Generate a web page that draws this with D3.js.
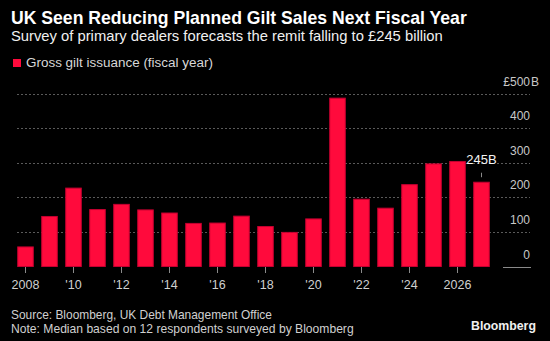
<!DOCTYPE html>
<html>
<head>
<meta charset="utf-8">
<script src="https://cdn.jsdelivr.net/npm/d3@7/dist/d3.min.js"></script>
<style>
  html, body { margin: 0; padding: 0; background: #000; }
  svg { display: block; }
  text { font-family: "Liberation Sans", Arial, sans-serif; }
</style>
</head>
<body>
<svg id="chart" width="550" height="341"></svg>
<script>
// Gross gilt issuance by fiscal year, £ billion
const years = [2008, 2009, 2010, 2011, 2012, 2013, 2014, 2015, 2016, 2017,
               2018, 2019, 2020, 2021, 2022, 2023, 2024, 2025, 2026, 2027];
const issuance = [58, 146, 228, 166, 181, 165, 156, 126, 127, 147,
                  117, 100, 139, 488, 196, 170, 238, 298, 305, 245];
const tickYears = [2008, 2010, 2012, 2014, 2016, 2018, 2020, 2022, 2024, 2026];
const tickLabels = ["2008", "'10", "'12", "'14", "'16", "'18", "'20", "'22", "'24", "2026"];
const yTicks = [0, 100, 200, 300, 400, 500];
const callout = { year: 2027, value: 245, label: "245B" };

const svg = d3.select("#chart");
const W = 550, H = 341;
svg.append("rect").attr("width", W).attr("height", H).attr("fill", "#000");

const RED = "#ff0a3c";
const RED_EDGE = "#c40030";

// Shrink or grow a text node's font size so it spans a given width
function fit(sel, width) {
  const node = sel.node();
  const fs = parseFloat(sel.attr("font-size"));
  const w = node.getComputedTextLength();
  if (w > 0) sel.attr("font-size", (fs * width / w).toFixed(2));
  return sel;
}

// Header
fit(svg.append("text").attr("x", 11).attr("y", 24)
  .attr("font-size", 17).attr("font-weight", "bold").attr("fill", "#fff")
  .text("UK Seen Reducing Planned Gilt Sales Next Fiscal Year"), 456);

fit(svg.append("text").attr("x", 11).attr("y", 40.5)
  .attr("font-size", 13).attr("fill", "#f0f0f0")
  .text("Survey of primary dealers forecasts the remit falling to £245 billion"), 432);

// Legend
svg.append("rect").attr("x", 13).attr("y", 59).attr("width", 8).attr("height", 8).attr("fill", RED);
fit(svg.append("text").attr("x", 26).attr("y", 66.5)
  .attr("font-size", 12.5).attr("fill", "#d8d8d8")
  .text("Gross gilt issuance (fiscal year)"), 187);

// Scales
const x = d3.scaleBand()
  .domain(years)
  .range([13.5, 493.5])
  .paddingInner(0.31)
  .paddingOuter(0.155);

const y = d3.scaleLinear().domain([0, 500]).range([266.5, 93.5]);

// Dotted gridlines
svg.append("g").selectAll("line")
  .data(yTicks.filter(v => v > 0))
  .join("line")
  .attr("x1", 17).attr("x2", 530)
  .attr("y1", d => Math.round(y(d)) + 0.5).attr("y2", d => Math.round(y(d)) + 0.5)
  .attr("stroke", "#5a5a5a").attr("stroke-width", 1)
  .attr("stroke-dasharray", "2,2");

// Zero line under the axis labels
svg.append("line")
  .attr("x1", 503).attr("x2", 531)
  .attr("y1", Math.round(y(0)) + 0.5).attr("y2", Math.round(y(0)) + 0.5)
  .attr("stroke", "#8a8a8a").attr("stroke-width", 1);

// Y axis labels
const yl = svg.append("g");
yTicks.forEach(v => {
  const t = yl.append("text")
    .attr("x", 530).attr("y", y(v) - 8)
    .attr("text-anchor", "end")
    .attr("font-size", 12).attr("fill", "#c8c8c8")
    .text(v === 500 ? "£" + v : v);
  if (v === 500) {
    yl.append("text").attr("x", 531).attr("y", y(v) - 8)
      .attr("font-size", 12).attr("fill", "#c8c8c8").text("B");
  }
});

// Bars
svg.append("g").selectAll("rect")
  .data(years.map((yr, i) => ({ yr, v: issuance[i] })))
  .join("rect")
  .attr("x", d => x(d.yr) + 0.5)
  .attr("y", d => y(d.v) + 0.5)
  .attr("width", x.bandwidth() - 1)
  .attr("height", d => y(0) - y(d.v) - 0.5)
  .attr("fill", RED)
  .attr("stroke", RED_EDGE).attr("stroke-width", 1);

// X ticks and labels
const cx = d => x(d) + x.bandwidth() / 2;
svg.append("g").selectAll("line")
  .data(tickYears)
  .join("line")
  .attr("x1", d => Math.round(cx(d)) + 0.5).attr("x2", d => Math.round(cx(d)) + 0.5)
  .attr("y1", 267).attr("y2", 273)
  .attr("stroke", "#8a8a8a");

svg.append("g").selectAll("text")
  .data(tickYears)
  .join("text")
  .attr("x", d => cx(d)).attr("y", 288.5)
  .attr("text-anchor", "middle")
  .attr("font-size", 12.5).attr("fill", "#d0d0d0")
  .text((d, i) => tickLabels[i]);

// Callout for the forecast year
const ccx = cx(callout.year);
svg.append("line")
  .attr("x1", Math.round(ccx) + 0.5).attr("x2", Math.round(ccx) + 0.5)
  .attr("y1", y(callout.value) - 9).attr("y2", y(callout.value) - 4.5)
  .attr("stroke", "#8a8a8a");
svg.append("text")
  .attr("x", ccx).attr("y", y(callout.value) - 17.5)
  .attr("text-anchor", "middle")
  .attr("font-size", 13).attr("fill", "#f4f4f4")
  .text(callout.label);

// Footer
fit(svg.append("text").attr("x", 11).attr("y", 318.5)
  .attr("font-size", 12).attr("fill", "#d0d0d0")
  .text("Source: Bloomberg, UK Debt Management Office"), 261);
fit(svg.append("text").attr("x", 11).attr("y", 332.5)
  .attr("font-size", 12).attr("fill", "#d0d0d0")
  .text("Note: Median based on 12 respondents surveyed by Bloomberg"), 343);
fit(svg.append("text").attr("x", 471).attr("y", 329.5)
  .attr("font-size", 12).attr("font-weight", "bold").attr("fill", "#f0f0f0")
  .text("Bloomberg"), 65);
</script>
</body>
</html>
